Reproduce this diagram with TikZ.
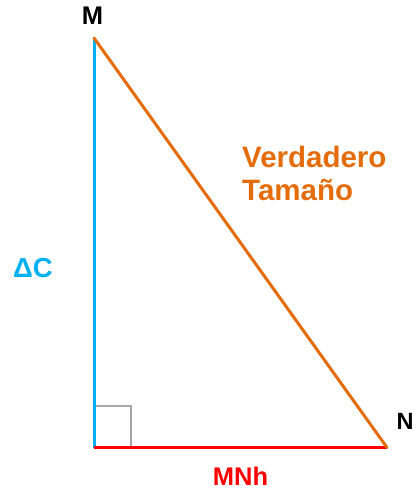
\documentclass[tikz,border=0pt]{standalone}
\usepackage{fontspec}
\setmainfont{Liberation Sans}
\definecolor{cblue}{HTML}{00B0F0}
\definecolor{corange}{HTML}{E46C0A}
\definecolor{cred}{HTML}{FF0000}
\definecolor{cgray}{HTML}{A6A6A6}
\begin{document}
\begin{tikzpicture}[x=1pt,y=-1pt,
  lbl/.style={inner sep=0pt,font=\bfseries},
  side/.style={line width=3pt}]
\useasboundingbox (0,0) rectangle (418,490);
\coordinate (M) at (94,38);
\coordinate (C) at (94,447.5);
\coordinate (N) at (387,447.5);
\coordinate (Q1) at (94,406);
\coordinate (Q2) at (131,406);
\coordinate (Q3) at (131,447.5);
\draw[cgray,line width=1.5pt] (Q1) -- (Q2) -- (Q3);
\draw[side,cblue] (M) -- (C);
\draw[side,cred] (C) -- (N);
\draw[side,corange,line cap=round] (M) -- (N);
\node[lbl,anchor=base,font=\bfseries\fontsize{25.5}{30}\selectfont] (lM) at (92.5,24) {M};
\node[lbl,anchor=base,font=\bfseries\fontsize{23.5}{28}\selectfont] (lN) at (405,429) {N};
\node[lbl,anchor=base,text=cblue,font=\bfseries\fontsize{27.5}{31}\selectfont] (lC) at (33,277) {ΔC};
\node[lbl,anchor=base west,text=corange,font=\bfseries\fontsize{29.5}{33}\selectfont] (lV1) at (242,167) {Verdadero};
\node[lbl,anchor=base west,text=corange,font=\bfseries\fontsize{29.5}{33}\selectfont] (lV2) at (242,200) {Tamaño};
\node[lbl,anchor=base,text=cred,font=\bfseries\fontsize{25.5}{30}\selectfont] (lH) at (240.5,485) {MNh};
\end{tikzpicture}
\end{document}
